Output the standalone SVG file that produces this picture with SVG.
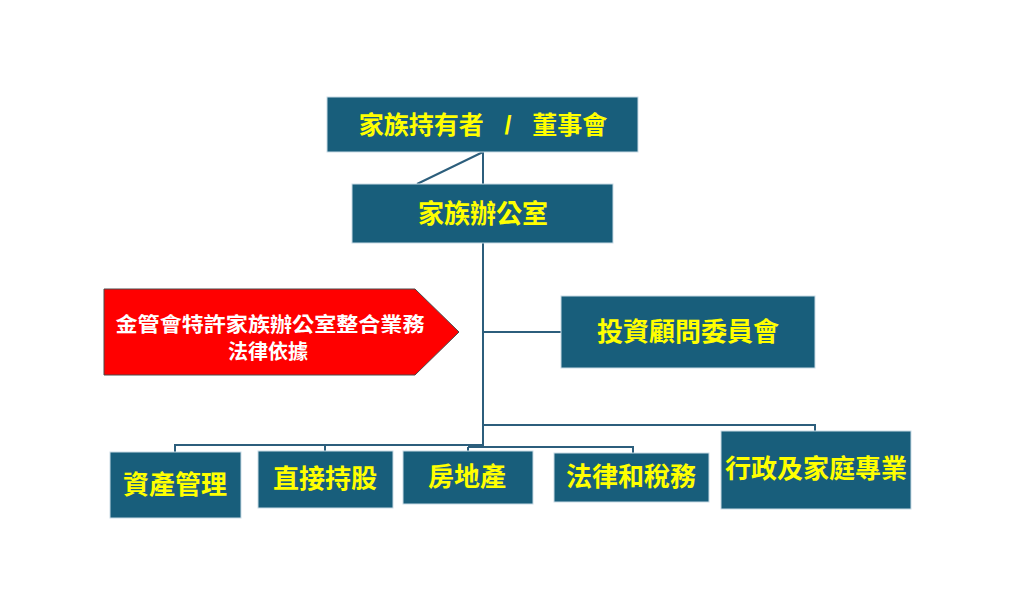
<svg xmlns="http://www.w3.org/2000/svg" width="1024" height="607" viewBox="0 0 1024 607">
<style>
.box{fill:#185e7b;stroke:#c9dbe6;stroke-width:1}
.t{font-family:"Liberation Sans","Noto Sans CJK TC",sans-serif;font-weight:bold;fill:#ffff00;text-anchor:middle;dominant-baseline:central}
.w{font-family:"Liberation Sans","Noto Sans CJK TC",sans-serif;font-weight:bold;fill:#ffffff;text-anchor:middle;dominant-baseline:central;font-size:20px}
.c{fill:none;stroke:#2c5e7c;stroke-width:2}
</style>
<rect width="1024" height="607" fill="#ffffff"/>
<g id="connectors">
<path class="c" d="M483,152 V184 M483,152 L417,184"/>
<path class="c" d="M483,243 V446 M483,332 H561"/>
<path class="c" d="M483,425 H815 V431"/>
<path class="c" d="M483,445 H175 V452 M325,445 V451"/>
<path class="c" d="M468,447 H633 V453 M468,447 V451"/>
</g>
<g id="owners">
<rect class="box" x="327" y="97" width="311" height="55"/>
<text class="t" x="483" y="125" font-size="25">家族持有者&#160;&#160;&#160;/&#160;&#160;&#160;董事會</text>
</g>
<g id="office">
<rect class="box" x="352" y="184" width="261" height="59"/>
<text class="t" x="483" y="214" font-size="26">家族辦公室</text>
</g>
<g id="legal-basis">
<polygon points="104,289 415,289 459,332 415,375 104,375" fill="#ff0000" stroke="#4a4a4a" stroke-width="1"/>
<text class="w" x="270" y="325" textLength="309" lengthAdjust="spacingAndGlyphs">金管會特許家族辦公室整合業務</text>
<text class="w" x="268" y="352">法律依據</text>
</g>
<g id="investment-committee">
<rect class="box" x="561" y="296" width="254" height="72"/>
<text class="t" x="688" y="332" font-size="26">投資顧問委員會</text>
</g>
<g id="asset-mgmt">
<rect class="box" x="110" y="452" width="131" height="66"/>
<text class="t" x="175" y="485" font-size="26">資產管理</text>
</g>
<g id="direct-holding">
<rect class="box" x="258" y="451" width="135" height="57"/>
<text class="t" x="325" y="479" font-size="26">直接持股</text>
</g>
<g id="real-estate">
<rect class="box" x="403" y="451" width="130" height="53"/>
<text class="t" x="467" y="477" font-size="26">房地產</text>
</g>
<g id="legal-tax">
<rect class="box" x="554" y="453" width="155" height="49"/>
<text class="t" x="631" y="477" font-size="26">法律和稅務</text>
</g>
<g id="admin-family">
<rect class="box" x="721" y="431" width="190" height="78"/>
<text class="t" x="816" y="469" font-size="26">行政及家庭專業</text>
</g>
</svg>
